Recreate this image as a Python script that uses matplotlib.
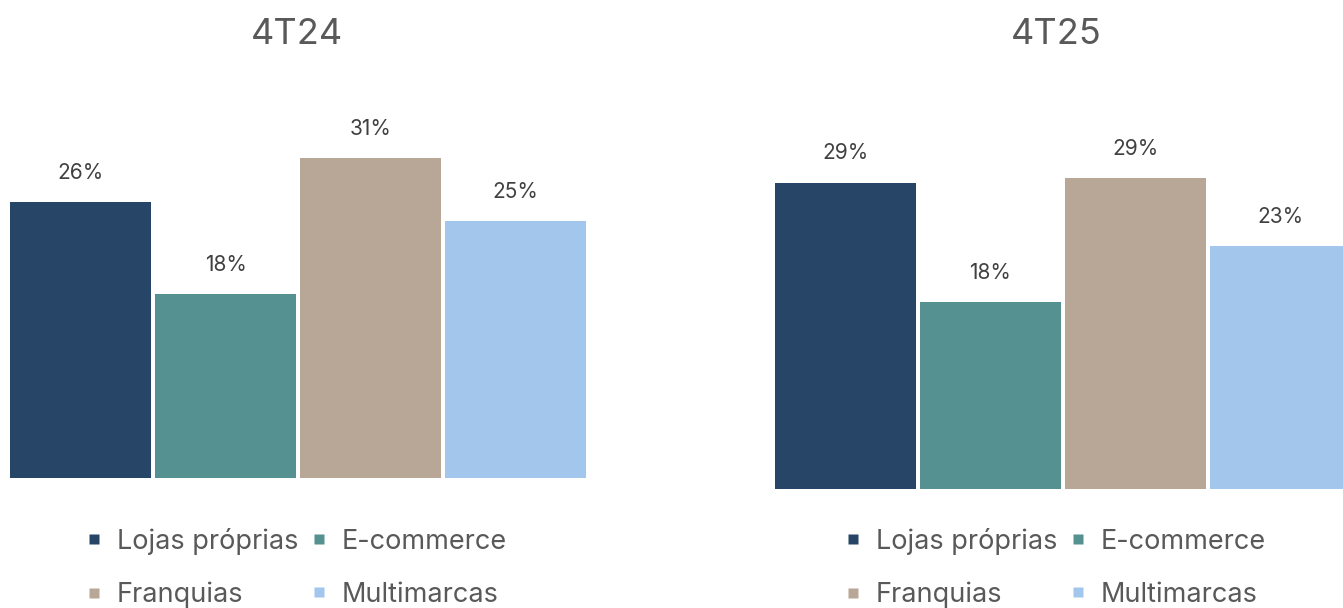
import matplotlib
matplotlib.use("Agg")
import matplotlib.pyplot as plt
from matplotlib.lines import Line2D

plt.rcParams['font.family'] = ['Inter', 'DejaVu Sans']

# données
categories = ["Lojas próprias", "E-commerce", "Franquias", "Multimarcas"]
periodes = ["4T24", "4T25"]
valeurs_4t24 = [26.4, 17.6, 30.6, 24.6]
valeurs_4t25 = [28.9, 17.6, 29.3, 22.9]
etiquettes_4t24 = ["26%", "18%", "31%", "25%"]
etiquettes_4t25 = ["29%", "18%", "29%", "23%"]
couleurs = ["#274566", "#559190", "#B8A696", "#A2C6EC"]

W, H = 1343, 608
fig = plt.figure(figsize=(W / 100, H / 100), dpi=100)

# (x gauche px, base px, px par %, centre titre/légende px)
panneaux = [
    (8, 478, 10.45, 297, valeurs_4t24, etiquettes_4t24, periodes[0]),
    (773, 489, 10.6, 1056, valeurs_4t25, etiquettes_4t25, periodes[1]),
]
ymax = 35
ordre = [0, 2, 1, 3]  # la légende se remplit par colonne -> lignes dans l'ordre
for x0, base, echelle, centre, vals, etiq, titre in panneaux:
    largeur = 580
    hauteur = ymax * echelle
    ax = fig.add_axes([x0 / W, (H - base) / H, largeur / W, hauteur / H])
    pos = range(len(categories))
    bars = ax.bar(pos, vals, width=0.97, color=couleurs)
    for b, t in zip(bars, etiq):
        ax.annotate(t, (b.get_x() + b.get_width() / 2, b.get_height()),
                    xytext=(0, 21), textcoords="offset points",
                    ha="center", va="center", fontsize=15, color="#404040")
    ax.set_xlim(-0.5, 3.5)
    ax.set_ylim(0, ymax)
    ax.axis("off")

    fig.text(centre / W, (H - 35) / H, titre, ha="center", va="center",
             fontsize=26, color="#595959")

    poignees = [Line2D([], [], marker="s", linestyle="none", markersize=7,
                       markerfacecolor=couleurs[i], markeredgecolor="none")
                for i in ordre]
    fig.legend(poignees, [categories[i] for i in ordre], loc="center",
               bbox_to_anchor=(centre / W, (H - 568) / H),
               ncol=2, frameon=False, fontsize=19.5, labelcolor="#595959",
               handlelength=0.5, handletextpad=0.6,
               columnspacing=0.5, labelspacing=1.0, borderpad=0)

fig.savefig("out.png", dpi=100)
